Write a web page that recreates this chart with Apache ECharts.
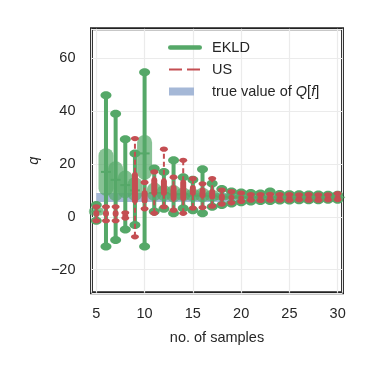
<!DOCTYPE html>
<html>
<head>
<meta charset="utf-8">
<script src="https://cdn.jsdelivr.net/npm/echarts@6/dist/echarts.min.js"></script>
<style>
  html, body { margin: 0; padding: 0; background: #fff; }
  #chart { width: 373px; height: 373px; }
</style>
</head>
<body>
<div id="chart"></div>
<script>
// sample counts on the x axis
const samples = [5, 6, 7, 8, 9, 10, 11, 12, 13, 14, 15, 16, 17, 18, 19, 20, 21, 22, 23, 24, 25, 26, 27, 28, 29, 30];

// EKLD spread per sample count
const ekldMin = [-1.5, -11.3, -8.8, -4.8, -3.1, -11.3, 2, 3, 1.3, 3.2, 2.5, 1.3, 3.8, 4.5, 5, 5.5, 5.8, 6, 6, 6.2, 6.2, 6.3, 6.3, 6.3, 6.4, 6.4];
const ekldQ1 = [0.5, 8, 6, 7, 6, 14, 6, 6, 5.5, 6, 6, 5.5, 6, 6.3, 6.5, 6.6, 6.7, 6.8, 6.8, 6.9, 6.9, 6.9, 7, 7, 7, 7];
const ekldMed = [2, 17, 14, 12, 10, 24, 9, 9, 8.5, 8.5, 8, 8, 7.8, 7.5, 7.5, 7.4, 7.4, 7.4, 7.4, 7.3, 7.3, 7.3, 7.3, 7.3, 7.3, 7.3];
const ekldQ3 = [3.5, 26, 21, 17.5, 15, 31, 13, 12, 12, 11, 10.5, 11, 10, 8.8, 8.5, 8.3, 8.1, 8, 8.2, 7.9, 7.9, 7.8, 7.8, 7.8, 7.7, 7.7];
const ekldMax = [4.5, 46, 39, 29.4, 24, 54.7, 18.3, 17, 21.4, 15, 14, 18, 12.6, 10.5, 9.6, 9.2, 9, 8.8, 9.6, 8.6, 8.5, 8.5, 8.4, 8.4, 8.3, 8.3];

// US spread per sample count
const usMin = [-1.5, -1.5, -1.5, -0.5, -7.6, 3, 1.3, 3.8, 2.5, 1.3, 3.3, 3.5, 4, 4.8, 5.3, 5.8, 6.3, 6.2, 6.3, 6.3, 6.3, 6.4, 6.3, 6.3, 6.4, 6.5];
const usQ1 = [0, 0, 0, 0, 5, 5, 8, 8, 6, 6, 8, 7, 6.5, 6, 6.3, 6.5, 6.8, 6.8, 6.8, 6.8, 6.9, 6.9, 6.8, 6.9, 6.9, 7];
const usQ3 = [2.5, 2.5, 2.5, 1, 17, 10, 15, 14.5, 12, 14, 12, 11, 10.5, 8.8, 8.3, 8, 7.8, 7.8, 7.9, 7.8, 7.8, 7.7, 7.8, 7.7, 7.7, 8];
const usMax = [3.8, 3.8, 3.8, 1.5, 29.6, 13, 17, 25.6, 15, 21.4, 14.5, 12.5, 14.5, 10.1, 9.5, 9, 8.4, 8.4, 8.5, 8.4, 8.4, 8.3, 8.4, 8.3, 8.3, 8.8];

// reference band
const trueValue = 7.3;
const bandRange = [5, 30];

const GREEN = '#55a868';
const RED = '#c44e52';
const BLUE = '#4c72b0';
const TEXT = '#262626';
const FONT = '"Liberation Sans", Arial, sans-serif';
const FS = 14.5;

const ekldData = samples.map((n, k) => [n, ekldMin[k], ekldQ1[k], ekldMed[k], ekldQ3[k], ekldMax[k]]);
const usData = samples.map((n, k) => [n, usMin[k], usQ1[k], usQ3[k], usMax[k]]);

function renderEkld(params, api) {
  const n = api.value(0);
  const lo = api.coord([n, api.value(1)]);
  const q1 = api.coord([n, api.value(2)]);
  const med = api.coord([n, api.value(3)]);
  const q3 = api.coord([n, api.value(4)]);
  const hi = api.coord([n, api.value(5)]);
  const x = lo[0];
  return {
    type: 'group',
    children: [
      { type: 'line', shape: { x1: x, y1: lo[1], x2: x, y2: hi[1] }, style: { stroke: GREEN, lineWidth: 4 } },
      { type: 'rect', shape: { x: x - 7.5, y: q3[1], width: 15, height: Math.max(q1[1] - q3[1], 1), r: 7.5 }, style: { fill: GREEN, opacity: 0.7 } },
      { type: 'line', shape: { x1: x - 5, y1: med[1], x2: x + 5, y2: med[1] }, style: { stroke: GREEN, lineWidth: 2 } },
      { type: 'ellipse', shape: { cx: x, cy: lo[1], rx: 5.5, ry: 4 }, style: { fill: GREEN } },
      { type: 'ellipse', shape: { cx: x, cy: hi[1], rx: 5.5, ry: 4 }, style: { fill: GREEN } },
    ],
  };
}

function renderUs(params, api) {
  const n = api.value(0);
  const lo = api.coord([n, api.value(1)]);
  const q1 = api.coord([n, api.value(2)]);
  const q3 = api.coord([n, api.value(3)]);
  const hi = api.coord([n, api.value(4)]);
  const x = lo[0];
  return {
    type: 'group',
    children: [
      { type: 'line', shape: { x1: x, y1: lo[1], x2: x, y2: hi[1] }, style: { stroke: RED, lineWidth: 2, lineDash: [5, 3] } },
      { type: 'rect', shape: { x: x - 3, y: q3[1], width: 6, height: Math.max(q1[1] - q3[1], 1), r: 3 }, style: { fill: RED } },
      { type: 'ellipse', shape: { cx: x, cy: lo[1], rx: 4, ry: 2.6 }, style: { fill: RED } },
      { type: 'ellipse', shape: { cx: x, cy: hi[1], rx: 4, ry: 2.6 }, style: { fill: RED } },
    ],
  };
}

const minus = (v) => String(v).replace('-', '\u2212');

// legend icons share a 39x8 box (corner specks fix the box size)
const specks = 'M0,0h0.05v0.05h-0.05Z M38.95,7.95h0.05v0.05h-0.05Z ';
const iconEkld = `path://${specks}M2.25,1.75 H31.75 A2.25,2.25 0 0 1 31.75,6.25 H2.25 A2.25,2.25 0 0 1 2.25,1.75 Z`;
const iconUs = `path://${specks}M1,3 H14 V5 H1 Z M19,3 H32 V5 H19 Z`;
const iconTrue = `path://${specks}M1,0 H26 V8 H1 Z`;

const chart = echarts.init(document.getElementById('chart'), null, { renderer: 'canvas' });

const option = {
  animation: false,
  backgroundColor: '#fff',
  textStyle: { fontFamily: FONT, color: TEXT },
  grid: {
    left: 91.5, right: 30.5, top: 28.8, bottom: 80.2,
    show: true, borderColor: '#222', borderWidth: 3, backgroundColor: 'transparent',
  },
  legend: {
    orient: 'vertical',
    left: 163,
    top: 34,
    itemWidth: 39,
    itemHeight: 8,
    itemGap: 5,
    selectedMode: false,
    textStyle: {
      fontFamily: FONT, fontSize: FS, color: TEXT, lineHeight: 17,
      rich: { i: { fontStyle: 'italic', fontFamily: FONT, fontSize: FS, color: TEXT } },
    },
    formatter: (name) => (name === 'true value of Q[f]' ? 'true value of {i|Q}[{i|f}]' : name),
    data: [
      { name: 'EKLD', icon: iconEkld, itemStyle: { color: GREEN } },
      { name: 'US', icon: iconUs, itemStyle: { color: RED } },
      { name: 'true value of Q[f]', icon: iconTrue, itemStyle: { color: '#a5b8d7' } },
    ],
  },
  xAxis: {
    type: 'value',
    min: 4.5,
    max: 30.5,
    name: 'no. of samples',
    nameLocation: 'middle',
    nameGap: 38,
    nameTextStyle: { fontFamily: FONT, fontSize: FS, color: TEXT },
    axisLine: { show: false },
    axisTick: { show: false },
    axisLabel: { fontFamily: FONT, fontSize: FS, color: TEXT, margin: 14, showMinLabel: false, showMaxLabel: false },
    splitLine: { show: true, lineStyle: { color: '#ebebeb', width: 1.2 } },
  },
  yAxis: {
    type: 'value',
    min: -28.8,
    max: 71.2,
    name: 'q',
    nameLocation: 'middle',
    nameGap: 50,
    nameMoveOverlap: false,
    nameTextStyle: { fontFamily: FONT, fontSize: FS, fontStyle: 'italic', color: TEXT },
    axisLine: { show: false },
    axisTick: { show: false },
    axisLabel: {
      fontFamily: FONT, fontSize: FS, color: TEXT, margin: 16,
      showMinLabel: false, showMaxLabel: false, formatter: minus,
    },
    splitLine: { show: true, lineStyle: { color: '#ebebeb', width: 1.2 } },
  },
  series: [
    {
      name: 'true value of Q[f]',
      type: 'line',
      data: bandRange.map((n) => [n, trueValue]),
      symbol: 'none',
      z: 1,
      itemStyle: { color: '#a5b8d7' },
      lineStyle: { color: BLUE, width: 9, opacity: 0.5, cap: 'butt' },
    },
    {
      name: 'EKLD',
      type: 'custom',
      renderItem: renderEkld,
      data: ekldData,
      encode: { x: 0, y: [1, 2, 3, 4, 5] },
      itemStyle: { color: GREEN },
      z: 2,
    },
    {
      name: 'US',
      type: 'custom',
      renderItem: renderUs,
      data: usData,
      encode: { x: 0, y: [1, 2, 3, 4] },
      itemStyle: { color: RED },
      z: 3,
    },
  ],
};

chart.setOption(option);
</script>
</body>
</html>
